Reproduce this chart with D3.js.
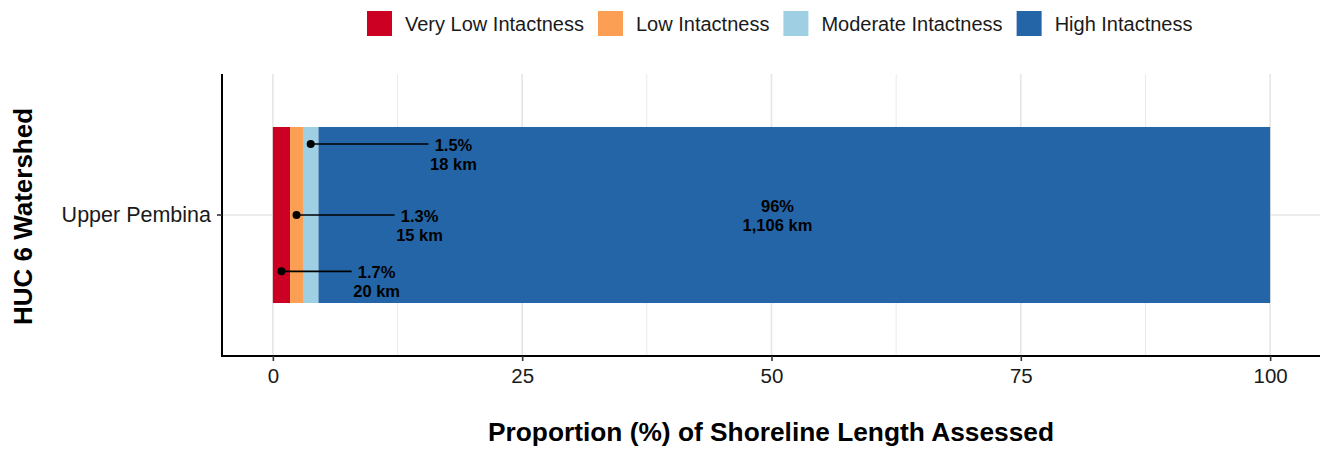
<!DOCTYPE html>
<html>
<head>
<meta charset="utf-8">
<script src="https://cdn.jsdelivr.net/npm/d3@7"></script>
<style>
  html, body { margin: 0; padding: 0; background: #fff; }
  svg { display: block; font-family: "Liberation Sans", Arial, sans-serif; }
</style>
</head>
<body>
<svg id="chart" width="1324" height="449"></svg>
<script>
// ---- data ----
const watersheds = ["Upper Pembina"];
const classes = ["Very Low Intactness", "Low Intactness", "Moderate Intactness", "High Intactness"];
const lengthKm = [20, 15, 18, 1106];
const pctLabels = ["1.7%", "1.3%", "1.5%", "96%"];
const kmLabels = ["20 km", "15 km", "18 km", "1,106 km"];
const colors = ["#cc0022", "#fb9f54", "#9ecfe2", "#2465a8"];
const xTicks = [0, 25, 50, 75, 100];
const xMinor = [12.5, 37.5, 62.5, 87.5];

// ---- layout ----
const W = 1324, H = 449;
const panel = { left: 222, right: 1320, top: 74, bottom: 356 };
// callout layout for the thin segments: row within the bar (fraction), line end (data units)
const calloutRow = [0.82, 0.5, 0.097];
const calloutEnd = [7.9, 12.2, 15.6];

const svg = d3.select("#chart");

const total = d3.sum(lengthKm);
const pct = lengthKm.map(d => d / total * 100);
let acc = 0;
const segs = classes.map((c, i) => {
  const s = { cls: c, i, x0: acc, x1: acc + pct[i] };
  acc += pct[i];
  return s;
});

const x = d3.scaleLinear().domain([-5.1, 105]).range([panel.left, panel.right]);
const y = d3.scaleBand().domain(watersheds).range([panel.top, panel.bottom])
  .paddingInner(0).paddingOuter(0.301);

// gridlines
const grid = svg.append("g");
grid.selectAll("line.minor").data(xMinor).join("line")
  .attr("x1", d => x(d)).attr("x2", d => x(d))
  .attr("y1", panel.top).attr("y2", panel.bottom)
  .attr("stroke", "#ebebeb").attr("stroke-width", 1);
grid.selectAll("line.major").data(xTicks).join("line")
  .attr("x1", d => x(d)).attr("x2", d => x(d))
  .attr("y1", panel.top).attr("y2", panel.bottom)
  .attr("stroke", "#e6e6e6").attr("stroke-width", 1.6);
grid.selectAll("line.hmajor").data(watersheds).join("line")
  .attr("x1", panel.left).attr("x2", panel.right)
  .attr("y1", d => y(d) + y.bandwidth() / 2).attr("y2", d => y(d) + y.bandwidth() / 2)
  .attr("stroke", "#e6e6e6").attr("stroke-width", 1.6);

// bars
const cat = watersheds[0];
svg.append("g").selectAll("rect").data(segs).join("rect")
  .attr("x", d => x(d.x0))
  .attr("width", d => x(d.x1) - x(d.x0))
  .attr("y", y(cat))
  .attr("height", y.bandwidth())
  .attr("fill", d => colors[d.i]);

// big label in the high segment
const bigX = x(50.6);
const cy = y(cat) + y.bandwidth() / 2;
const bl = svg.append("text").attr("text-anchor", "middle")
  .attr("font-size", 16.5).attr("font-weight", "bold").attr("fill", "#000");
bl.append("tspan").attr("x", bigX).attr("y", cy - 3.5).text(pctLabels[3]);
bl.append("tspan").attr("x", bigX).attr("y", cy + 16).text(kmLabels[3]);

// callouts for small segments
const callouts = svg.append("g");
segs.slice(0, 3).forEach((s, i) => {
  const px = x((s.x0 + s.x1) / 2);
  const py = y(cat) + y.bandwidth() * calloutRow[i];
  const ex = x(calloutEnd[i]);
  callouts.append("line")
    .attr("x1", px).attr("x2", ex).attr("y1", py).attr("y2", py)
    .attr("stroke", "#000").attr("stroke-width", 1.6);
  callouts.append("circle").attr("cx", px).attr("cy", py).attr("r", 4).attr("fill", "#000");
  const t = callouts.append("text").attr("text-anchor", "middle")
    .attr("font-size", 16.5).attr("font-weight", "bold").attr("fill", "#000");
  t.append("tspan").attr("x", ex + 25).attr("y", py + 7).text(pctLabels[i]);
  t.append("tspan").attr("x", ex + 25).attr("y", py + 26).text(kmLabels[i]);
});

// axes
const xAxis = svg.append("g").attr("transform", `translate(0,${panel.bottom})`)
  .call(d3.axisBottom(x).tickValues(xTicks).tickSize(5).tickPadding(7).tickFormat(d3.format("d")));
xAxis.select(".domain").attr("d", `M${panel.left},0H${panel.right}`).attr("stroke", "#000").attr("stroke-width", 2);
xAxis.selectAll(".tick line").attr("stroke", "#333").attr("stroke-width", 1.6);
xAxis.selectAll(".tick text").attr("font-size", 20.5).attr("fill", "#1a1a1a")
  .attr("font-family", "'Liberation Sans', Arial, sans-serif");

const yAxis = svg.append("g").attr("transform", `translate(${panel.left},0)`)
  .call(d3.axisLeft(y).tickSize(5).tickPadding(6));
yAxis.select(".domain").attr("d", `M0,${panel.top}V${panel.bottom + 1}`).attr("stroke", "#000").attr("stroke-width", 2);
yAxis.selectAll(".tick line").attr("stroke", "#333").attr("stroke-width", 1.6);
yAxis.selectAll(".tick text").attr("font-size", 21.5).attr("fill", "#1a1a1a")
  .attr("font-family", "'Liberation Sans', Arial, sans-serif");

// axis titles
svg.append("text").attr("x", (panel.left + panel.right) / 2).attr("y", 441)
  .attr("text-anchor", "middle").attr("font-size", 26.3).attr("font-weight", "bold")
  .text("Proportion (%) of Shoreline Length Assessed");
svg.append("text").attr("transform", `translate(32,216.5) rotate(-90)`)
  .attr("text-anchor", "middle").attr("font-size", 26).attr("font-weight", "bold")
  .text("HUC 6 Watershed");

// legend
const legend = svg.append("g");
let lx = 367;
classes.forEach((c, i) => {
  legend.append("rect").attr("x", lx).attr("y", 11).attr("width", 25).attr("height", 25)
    .attr("fill", colors[i]);
  const t = legend.append("text").attr("x", lx + 38).attr("y", 30.5)
    .attr("font-size", 20).attr("fill", "#1a1a1a").text(c);
  lx = lx + 38 + t.node().getComputedTextLength() + 14;
});
</script>
</body>
</html>
